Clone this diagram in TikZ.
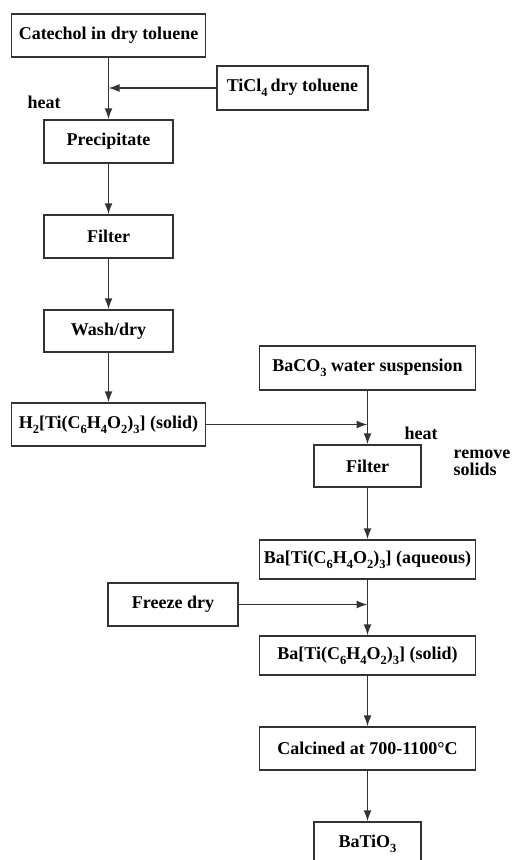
\documentclass[tikz,border=0pt]{standalone}
\usepackage{fontspec}
\setmainfont{Liberation Serif}
\usetikzlibrary{arrows.meta,positioning}
\newcommand{\lowsub}[1]{\raisebox{-5pt}{\fontsize{12.5}{12.5}\selectfont #1}}

\begin{document}
\begin{tikzpicture}[x=1pt,y=-1pt,
  box/.style={draw=black!80,line width=1.5pt,inner sep=0pt,
    font=\bfseries\fontsize{18}{20}\selectfont},
  lbl/.style={inner sep=0pt,align=left,
    font=\bfseries\fontsize{18}{17}\selectfont},
  link/.style={draw=black!80,line width=1.5pt,-{Latex[length=11pt,width=8pt]}}]
\useasboundingbox (0,0) rectangle (517,860);
% left column
\node[box,minimum width=194pt,minimum height=43pt] (cat) at (108.5,35.5) {Catechol in dry toluene};
\node[box,minimum width=151pt,minimum height=44pt] (ticl) at (292.5,88) {TiCl\lowsub{4}\,dry toluene};
\node[box,minimum width=129pt,minimum height=43pt] (prec) at (108.5,141.5) {Precipitate};
\node[box,minimum width=129pt,minimum height=43pt] (filta) at (108.5,236.5) {Filter};
\node[box,minimum width=129pt,minimum height=42pt] (wash) at (108.5,331) {Wash/dry};
\node[box,minimum width=194pt,minimum height=43pt] (htic) at (108.5,424.5) {H\lowsub{2}[Ti(C\lowsub{6}H\lowsub{4}O\lowsub{2})\lowsub{3}] (solid)};
% right column
\node[box,minimum width=216pt,minimum height=44pt] (baco) at (367.5,368) {BaCO\lowsub{3} water suspension};
\node[box,minimum width=107pt,minimum height=42pt] (filtb) at (367.5,466) {Filter};
\node[box,minimum width=216pt,minimum height=39pt] (baaq) at (367.5,559.5) {Ba[Ti(C\lowsub{6}H\lowsub{4}O\lowsub{2})\lowsub{3}] (aqueous)};
\node[box,minimum width=130pt,minimum height=43pt] (frz) at (173,604.5) {Freeze dry};
\node[box,minimum width=216pt,minimum height=39pt] (basol) at (367.5,655.5) {Ba[Ti(C\lowsub{6}H\lowsub{4}O\lowsub{2})\lowsub{3}] (solid)};
\node[box,minimum width=216pt,minimum height=43pt] (calc) at (367.5,748.5) {Calcined at 700-1100°C};
\node[box,minimum width=107pt,minimum height=43pt] (batio) at (367.5,843.5) {BaTiO\lowsub{3}};
% labels
\node[lbl] (heata) at (44,102) {heat};
\node[lbl] (heatb) at (421,433) {heat};
\node[lbl] (rmv) at (482,463) {remove\\solids};
% joins
\coordinate (ja) at (cat.south |- ticl.west);
\coordinate (jb) at (baco.south |- htic.east);
\coordinate (jc) at (baaq.south |- frz.east);
% arrows
\foreach \a/\b in {cat/prec,prec/filta,filta/wash,wash/htic,baco/filtb,filtb/baaq,baaq/basol,basol/calc,calc/batio}
  \draw[link] (\a) -- (\b);
\draw[link] (ticl) -- (ja);
\draw[link] (htic) -- (jb);
\draw[link] (frz) -- (jc);
\end{tikzpicture}
\end{document}
